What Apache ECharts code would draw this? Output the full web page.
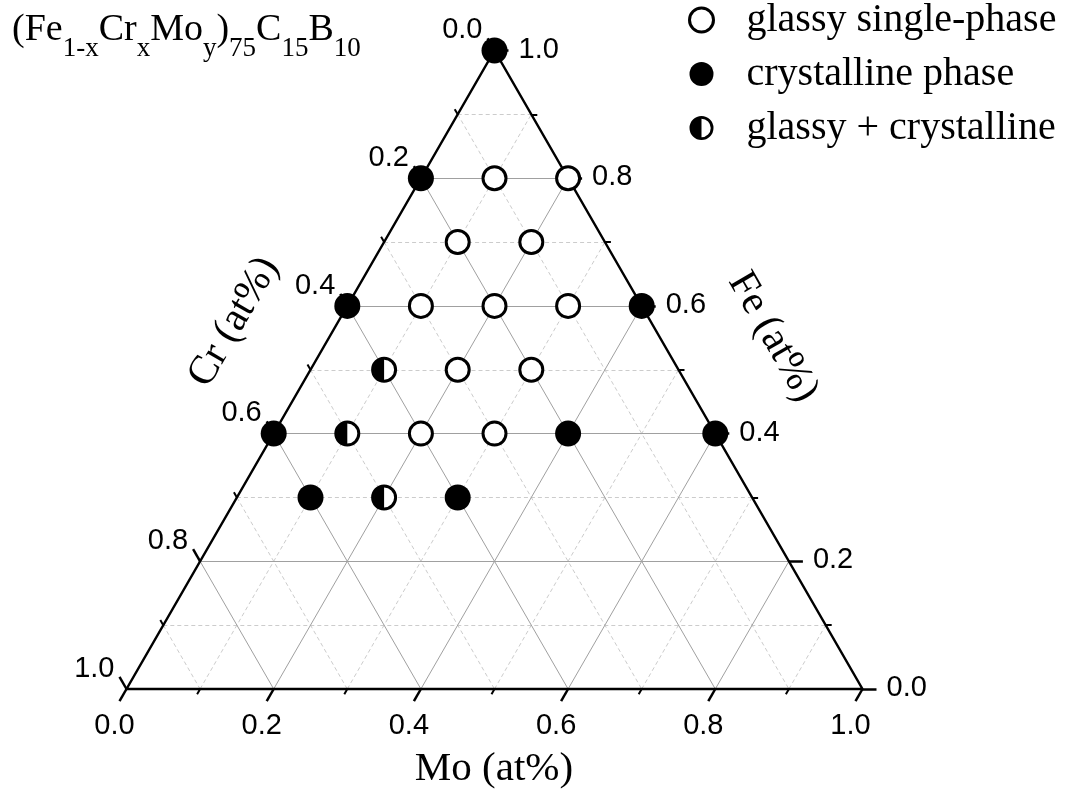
<!DOCTYPE html>
<html><head><meta charset="utf-8">
<script src="https://cdn.jsdelivr.net/npm/echarts@6/dist/echarts.min.js"></script>
<style>html,body{margin:0;padding:0;background:#fff}#c{width:1070px;height:794px}</style>
</head><body><div id="c"></div>
<script>
// compositions given as Fe and Mo fractions (Cr = 1 - Fe - Mo)
const glassyFe = [0.8, 0.8, 0.7, 0.7, 0.6, 0.6, 0.6, 0.5, 0.5, 0.4, 0.4];
const glassyMo = [0.1, 0.2, 0.1, 0.2, 0.1, 0.2, 0.3, 0.2, 0.3, 0.2, 0.3];
const crystFe  = [1.0, 0.8, 0.6, 0.6, 0.4, 0.4, 0.4, 0.3, 0.3];
const crystMo  = [0.0, 0.0, 0.0, 0.4, 0.0, 0.4, 0.6, 0.1, 0.3];
const mixedFe  = [0.5, 0.4, 0.3];
const mixedMo  = [0.1, 0.1, 0.2];
const tickValues = [0, 0.2, 0.4, 0.6, 0.8, 1.0];
const tickLabels = ['0.0', '0.2', '0.4', '0.6', '0.8', '1.0'];
const minorValues = [0.1, 0.3, 0.5, 0.7, 0.9];
const gridMajor = [0.2, 0.4, 0.6, 0.8];
const legendNames = ['glassy single-phase', 'crystalline phase', 'glassy + crystalline'];
const axisTitles = ['Mo (at%)', 'Cr (at%)', 'Fe (at%)'];
// formula pieces: [text, isSubscript]
const formulaParts = [['(Fe', 0], ['1-x', 1], ['Cr', 0], ['x', 1], ['Mo', 0], ['y', 1], [')', 0], ['75', 1], ['C', 0], ['15', 1], ['B', 0], ['10', 1]];

// ternary -> cartesian (x = Mo + Fe/2, y = Fe), equilateral via grid aspect
function tern(fe, mo) { return [mo + fe / 2, fe]; }
function pts(feArr, moArr) { return feArr.map((f, i) => tern(f, moArr[i])); }

function feLine(f) { return { coords: [tern(f, 0), tern(f, 1 - f)] }; }
function moLine(m) { return { coords: [tern(0, m), tern(1 - m, m)] }; }
function crLine(c) { return { coords: [tern(1 - c, 0), tern(0, 1 - c)] }; }
function gridSet(vals) {
  const out = [];
  vals.forEach(v => { out.push(feLine(v), moLine(v), crLine(v)); });
  return out;
}

const EDGE_PX = 736;
const TMAJ = 14 / EDGE_PX, TMIN = 6 / EDGE_PX;
function bottomEnd(m, t) { const p = tern(0, m); return [p[0] - 0.5 * t, p[1] - t]; }
function leftEnd(c, t) { const p = tern(1 - c, 0); return [p[0] - 0.5 * t, p[1] + t]; }
function rightEnd(f, t) { const p = tern(f, 1 - f); return [p[0] + t, p[1]]; }
function tickSet(vals, t) {
  const out = [];
  vals.forEach(v => {
    out.push({ coords: [tern(0, v), bottomEnd(v, t)] });
    out.push({ coords: [tern(1 - v, 0), leftEnd(v, t)] });
    out.push({ coords: [tern(v, 1 - v), rightEnd(v, t)] });
  });
  return out;
}

const halfPath = 'path://M0,13 A13,13 0 1,1 26,13 A13,13 0 1,1 0,13 Z ' +
  'M3,13 A10,10 0 1,0 23,13 A10,10 0 1,0 3,13 Z ' +
  'M13,3 A10,10 0 0,0 13,23 Z';

const labelFont = { fontFamily: 'Liberation Sans', fontSize: 29, color: '#000' };
const serif = 'Liberation Serif';

// build formula title as separate text pieces
const mctx = document.createElement('canvas').getContext('2d');
const MAIN_FS = 38, SUB_FS = 27;
const titleGraphics = [];
let tx = 12;
formulaParts.forEach(([txt, sub]) => {
  const fs = sub ? SUB_FS : MAIN_FS;
  const font = fs + 'px "Liberation Serif"';
  mctx.font = font;
  const baseY = sub ? 58 : 43;
  titleGraphics.push({ type: 'text', x: tx, y: baseY - 0.3375 * fs,
    style: { text: txt, font: font, fill: '#000', align: 'left', verticalAlign: 'middle' } });
  tx += mctx.measureText(txt).width;
});

const chart = echarts.init(document.getElementById('c'), null, { renderer: 'canvas' });
chart.setOption({
  animation: false,
  backgroundColor: '#fff',
  grid: { left: 126.5, right: 207.5, top: 50.5, bottom: 105, containLabel: false },
  xAxis: { type: 'value', min: 0, max: 1, show: false },
  yAxis: { type: 'value', min: 0, max: 1, show: false },
  legend: {
    data: [
      { name: legendNames[0], itemStyle: { color: '#fff', borderColor: '#000', borderWidth: 3 } },
      { name: legendNames[1], itemStyle: { color: '#000', borderWidth: 0 } },
      { name: legendNames[2], itemStyle: { color: '#000', borderWidth: 0 } }
    ],
    orient: 'vertical', left: 688, top: 0, padding: 0,
    itemWidth: 24, itemHeight: 24, itemGap: 14, selectedMode: false,
    textStyle: { fontFamily: serif, fontSize: 40, color: '#000', lineHeight: 40, padding: [0, 0, 0, 28] }
  },
  graphic: titleGraphics.concat([
    { type: 'text', x: 494, y: 769, style: { text: axisTitles[0], font: '41px "Liberation Serif"', fill: '#000', align: 'center', verticalAlign: 'middle' } },
    { type: 'text', x: 234, y: 322, rotation: Math.PI / 3, style: { text: axisTitles[1], font: '41px "Liberation Serif"', fill: '#000', align: 'center', verticalAlign: 'middle' } },
    { type: 'text', x: 773, y: 337, rotation: -Math.PI / 3, style: { text: axisTitles[2], font: '41px "Liberation Serif"', fill: '#000', align: 'center', verticalAlign: 'middle' } }
  ]),
  series: [
    { type: 'lines', coordinateSystem: 'cartesian2d', silent: true, z: 1, clip: false,
      lineStyle: { color: '#cccccc', width: 1, type: [4, 3], opacity: 1 }, data: gridSet(minorValues) },
    { type: 'lines', coordinateSystem: 'cartesian2d', silent: true, z: 1, clip: false,
      lineStyle: { color: '#a0a0a0', width: 1, type: 'solid', opacity: 1 }, data: gridSet(gridMajor) },
    { type: 'lines', coordinateSystem: 'cartesian2d', silent: true, z: 2, clip: false,
      lineStyle: { color: '#000', width: 2.5, opacity: 1 }, data: tickSet(tickValues, TMAJ) },
    { type: 'lines', coordinateSystem: 'cartesian2d', silent: true, z: 2, clip: false,
      lineStyle: { color: '#000', width: 2, opacity: 1 }, data: tickSet(minorValues, TMIN) },
    { type: 'line', silent: true, z: 3, symbol: 'none', clip: false,
      lineStyle: { color: '#000', width: 2.5 },
      data: [tern(0, 0), tern(0, 1), tern(1, 0), tern(0, 0)] },
    { name: legendNames[0], type: 'scatter', z: 5, clip: false, symbol: 'circle', symbolSize: 23,
      itemStyle: { color: '#fff', borderColor: '#000', borderWidth: 3, opacity: 1 },
      data: pts(glassyFe, glassyMo) },
    { name: legendNames[1], type: 'scatter', z: 5, clip: false, symbol: 'circle', symbolSize: 26,
      itemStyle: { color: '#000', opacity: 1 }, data: pts(crystFe, crystMo) },
    { name: 'mixed-bg', type: 'scatter', z: 5, clip: false, symbol: 'circle', symbolSize: 24,
      itemStyle: { color: '#fff', opacity: 1 }, data: pts(mixedFe, mixedMo) },
    { name: legendNames[2], type: 'scatter', z: 6, clip: false, symbol: halfPath, symbolSize: 26,
      itemStyle: { color: '#000', opacity: 1 }, data: pts(mixedFe, mixedMo) },
    { type: 'scatter', silent: true, z: 4, clip: false, symbolSize: 0, itemStyle: { opacity: 1 },
      label: { show: true, position: 'bottom', distance: 10, offset: [-5, 0], ...labelFont },
      data: tickValues.map((v, i) => ({ value: bottomEnd(v, TMAJ), label: { formatter: tickLabels[i] } })) },
    { type: 'scatter', silent: true, z: 4, clip: false, symbolSize: 0, itemStyle: { opacity: 1 },
      label: { show: true, position: 'left', distance: 5, offset: [0, -8], ...labelFont },
      data: tickValues.map((v, i) => ({ value: leftEnd(v, TMAJ), label: { formatter: tickLabels[i] } })) },
    { type: 'scatter', silent: true, z: 4, clip: false, symbolSize: 0, itemStyle: { opacity: 1 },
      label: { show: true, position: 'right', distance: 10, offset: [0, -1], ...labelFont },
      data: tickValues.map((v, i) => ({ value: rightEnd(v, TMAJ), label: { formatter: tickLabels[i] } })) }
  ]
});
</script>
</body></html>
